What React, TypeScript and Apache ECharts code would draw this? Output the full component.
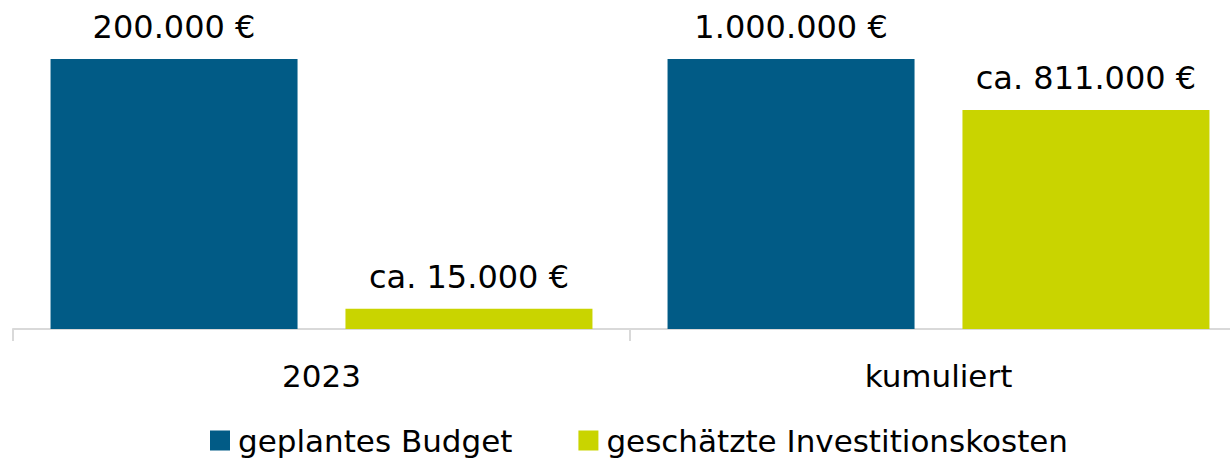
import React, { useEffect, useRef } from "react";
import * as echarts from "echarts";

const categories = ["2023", "kumuliert"];
const seriesNames = ["geplantes Budget", "geschätzte Investitionskosten"];
const budgetValues = [200000, 1000000];
const costValues = [15000, 811000];
const labelPrefixes = ["", "ca. "];
const colors = ["#015B86", "#C9D400"];

const FONT = "DejaVu Sans";

function fmt(v: number): string {
  return String(v).replace(/\B(?=(\d{3})+(?!\d))/g, ".") + " €";
}

export default function App() {
  const ref = useRef<HTMLDivElement>(null);
  useEffect(() => {
    if (!ref.current) return;
    const chart = echarts.init(ref.current, undefined, { renderer: "svg" });
    const raw = [budgetValues, costValues];
    const series = raw.map((vals, si) => ({
      name: seriesNames[si],
      type: "bar",
      barWidth: 247,
      barGap: "19.4%",
      itemStyle: { color: colors[si] },
      // each category is scaled relative to its planned budget
      data: vals.map((v, i) => ({ value: (v / budgetValues[i]) * 100, raw: v })),
      label: {
        show: true,
        position: "top",
        distance: 16,
        fontFamily: FONT,
        fontSize: 32,
        color: "#000",
        formatter: (p: any) => labelPrefixes[si] + fmt(p.data.raw),
      },
    }));
    chart.setOption({
      animation: false,
      textStyle: { fontFamily: FONT },
      grid: { left: 13, right: 0, top: 59, bottom: 129 },
      xAxis: {
        type: "category",
        data: categories,
        axisLine: { lineStyle: { color: "#D9D9D9", width: 2 } },
        axisTick: { show: true, length: 12, lineStyle: { color: "#D9D9D9", width: 2 } },
        axisLabel: { fontFamily: FONT, fontSize: 31, color: "#000", margin: 31 },
      },
      yAxis: { type: "value", min: 0, max: 100, show: false, splitLine: { show: false } },
      legend: {
        data: seriesNames,
        left: 205,
        top: 420,
        icon: "rect",
        itemWidth: 20,
        itemHeight: 20,
        itemGap: 66,
        textStyle: { fontFamily: FONT, fontSize: 31, color: "#000", padding: [0, 0, 0, 3] },
      },
      series,
    });
    return () => chart.dispose();
  }, []);
  return (
    <div
      ref={ref}
      style={{ position: "fixed", left: 0, top: 0, width: 1247, height: 458, background: "#fff" }}
    />
  );
}
